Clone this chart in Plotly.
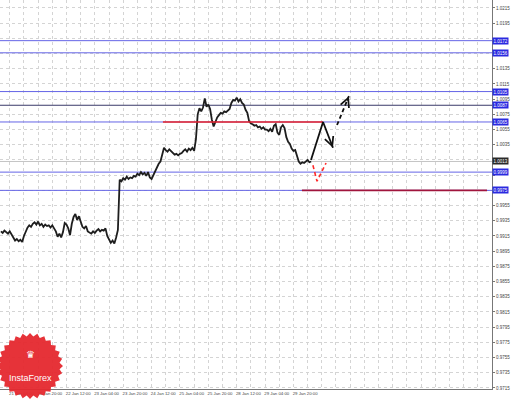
import numpy as np
import plotly.graph_objects as go

# ---------------- data ----------------
close = [
    0.9921, 0.9919, 0.9922, 0.9920, 0.9918, 0.9921, 0.9917, 0.9912, 0.9909, 0.9911,
    0.9908, 0.9910, 0.9907, 0.9915, 0.9922, 0.9926, 0.9929, 0.9927, 0.9931, 0.9933,
    0.9930, 0.9934, 0.9929, 0.9931, 0.9927, 0.9930, 0.9928, 0.9929, 0.9926, 0.9929,
    0.9925, 0.9921, 0.9914, 0.9918, 0.9913, 0.9920, 0.9932, 0.9930, 0.9925, 0.9916,
    0.9931, 0.9940, 0.9944, 0.9936, 0.9941, 0.9933, 0.9927, 0.9925, 0.9928, 0.9921,
    0.9920, 0.9918, 0.9921, 0.9919, 0.9922, 0.9924, 0.9921, 0.9923, 0.9922, 0.9925,
    0.9915, 0.9910, 0.9906, 0.9909, 0.9905, 0.9913, 0.9923,
    0.9989,
    0.9987, 0.9991, 0.9989, 0.9993, 0.9990, 0.9992, 0.9991, 0.9994, 0.9993,
    0.9997, 0.9995, 0.9999, 0.9996, 0.9998, 0.9994, 0.9999, 0.9992, 0.9990,
    0.9995, 1.0001, 1.0006, 1.0010, 1.0013,
    1.0024, 1.0031, 1.0028, 1.0026, 1.0029, 1.0027,
    1.0024, 1.0022, 1.0023, 1.0021, 1.0023, 1.0024,
    1.0027, 1.0029, 1.0026, 1.0030, 1.0028, 1.0031, 1.0027,
    1.0042, 1.0075, 1.0083, 1.0079, 1.0084,
    1.0096, 1.0085, 1.0088, 1.0082,
    1.0068, 1.0059, 1.0065, 1.0071,
    1.0074, 1.0077, 1.0076, 1.0079, 1.0078, 1.0080, 1.0082,
    1.0090, 1.0094, 1.0093, 1.0097, 1.0092, 1.0095, 1.0090,
    1.0088, 1.0081, 1.0077,
    1.0066, 1.0063,
    1.0062, 1.0060, 1.0061, 1.0058, 1.0059, 1.0056, 1.0058, 1.0055,
    1.0055, 1.0053, 1.0056, 1.0052,
    1.0060, 1.0062,
    1.0051, 1.0048,
    1.0058, 1.0061, 1.0057,
    1.0045, 1.0039, 1.0036,
    1.0030, 1.0027, 1.0028,
    1.0021, 1.0013, 1.0010,
    1.0012, 1.0011, 1.0013, 1.0015, 1.0012, 1.0013,
]

x_tick_bars = [5, 21, 37, 53, 69, 85, 101, 117, 133, 149, 165]
x_tick_text = ["21 Jan 04:00", "21 Jan 20:00", "22 Jan 12:00", "23 Jan 04:00",
               "23 Jan 20:00", "24 Jan 12:00", "25 Jan 04:00", "25 Jan 20:00",
               "28 Jan 12:00", "29 Jan 04:00", "29 Jan 20:00"]

y_tick_vals = [0.9715, 0.9735, 0.9755, 0.9775, 0.9795, 0.9815, 0.9835, 0.9855,
               0.9875, 0.9895, 0.9915, 0.9935, 0.9955, 0.9975, 0.9995, 1.0015,
               1.0035, 1.0055, 1.0075, 1.0095, 1.0115, 1.0135, 1.0155, 1.0175,
               1.0195, 1.0215]
# tick labels hidden behind the price tags in the reference
y_tick_hidden = [0.9975, 0.9995, 1.0015, 1.0155, 1.0175]
y_tick_text = ["" if v in y_tick_hidden else "%.4f" % v for v in y_tick_vals]

blue_levels = [1.0172, 1.0156, 1.0105, 1.0065, 0.9999, 0.9975]
dark_level = 1.0087
bid_level = 1.0013

red_seg_x = [91.4, 181.7]
red_seg_y = [1.0065, 1.0065]
darkred_seg_x = [169.8, 274.2]
darkred_seg_y = [0.9975, 0.9975]

fc_solid_x = [174.9, 181.7, 187.3]
fc_solid_y = [1.0015, 1.0065, 1.0031]
fc_dash_x = [189.6, 196.3]
fc_dash_y = [1.0061, 1.0099]
fc_red_x = [176.0, 178.3, 183.4]
fc_red_y = [1.0008, 0.9987, 1.0011]

X_RANGE = [-0.5, 277]

# ---------------- figure ----------------
FONT = "Liberation Sans, Arial, sans-serif"
fig = go.Figure()

def level(lv, color):
    fig.add_trace(go.Scatter(x=X_RANGE, y=[lv, lv], mode="lines",
                             line=dict(color=color, width=1), hoverinfo="skip"))

for lv in blue_levels:
    level(lv, "#6464e6")
level(dark_level, "#3a3a6a")
level(bid_level, "#c4c4c4")

# price
fig.add_trace(go.Scatter(x=list(range(len(close))), y=close, mode="lines",
                         line=dict(color="#1e1e1e", width=1.8), hoverinfo="skip"))

# red / dark-red segments
fig.add_trace(go.Scatter(x=red_seg_x, y=red_seg_y, mode="lines",
                         line=dict(color="#e8242a", width=1.6)))
fig.add_trace(go.Scatter(x=darkred_seg_x, y=darkred_seg_y, mode="lines",
                         line=dict(color="#a0143c", width=1.6)))

# forecast paths
fig.add_trace(go.Scatter(x=fc_solid_x, y=fc_solid_y, mode="lines",
                         line=dict(color="#111111", width=1.8)))
fig.add_trace(go.Scatter(x=fc_dash_x, y=fc_dash_y, mode="lines",
                         line=dict(color="#111111", width=1.8, dash="4px,3px")))
fig.add_trace(go.Scatter(x=fc_red_x, y=fc_red_y, mode="lines",
                         line=dict(color="#ff2a2a", width=1.6, dash="4px,3px")))

annotations = []
shapes = []

def head(xs, ys, color):
    x1, y1 = xs[-1], ys[-1]
    x0, y0 = xs[-2], ys[-2]
    tx = x1 - 0.2 * (x1 - x0)
    ty = y1 - 0.2 * (y1 - y0)
    annotations.append(dict(x=x1, y=y1, ax=tx, ay=ty, xref="x", yref="y",
                            axref="x", ayref="y", text="", showarrow=True,
                            arrowhead=5, arrowsize=1.1, arrowwidth=1.6,
                            arrowcolor=color))

head(fc_solid_x, fc_solid_y, "#111111")
head(fc_dash_x, fc_dash_y, "#111111")
head(fc_red_x, fc_red_y, "#ff2a2a")

# price labels on the right axis
def tag(lv, bg):
    annotations.append(dict(x=1, xref="paper", xanchor="left", yanchor="middle", y=lv, yref="y",
                            text="%.4f" % lv, showarrow=False, bgcolor=bg,
                            font=dict(color="white", size=4.5, family=FONT),
                            borderpad=0.6))

for lv in blue_levels:
    tag(lv, "#2a2ae0")
tag(dark_level, "#2a2ae0")
tag(bid_level, "#2a2a2a")

# InstaForex seal (decorative)
cx, cy = 30 / 492, (389 - 366) / 389
rx, ry = 33 / 492, 33 / 389
n = 28
pts = []
for k in range(2 * n):
    a = np.pi * k / n
    r = 1.0 if k % 2 == 0 else 0.9
    pts.append((cx + rx * r * np.cos(a), cy + ry * r * np.sin(a)))
path = "M " + " L ".join("%.5f,%.5f" % p for p in pts) + " Z"
shapes.append(dict(type="path", xref="paper", yref="paper", path=path,
                   fillcolor="#e5282e", line=dict(color="#e5282e", width=0), layer="above",
                   opacity=0.95))
annotations.append(dict(x=cx, y=cy - 0.03, xref="paper", yref="paper", text="InstaForex",
                        xanchor="center", yanchor="middle",
                        showarrow=False, font=dict(color="white", size=9, family=FONT)))
annotations.append(dict(x=cx, y=cy + 0.03, xref="paper", yref="paper", text="♛",
                        xanchor="center", yanchor="middle",
                        showarrow=False, font=dict(color="white", size=10, family="DejaVu Sans")))

label_off = 6.6  # labels start at their tick, as in MetaTrader
fig.update_layout(
    width=518, height=402,
    margin=dict(l=0, r=26, t=0, b=13),
    paper_bgcolor="white", plot_bgcolor="white",
    showlegend=False,
    shapes=shapes, annotations=annotations,
    xaxis=dict(range=X_RANGE, tickvals=[b + label_off for b in x_tick_bars],
               ticktext=x_tick_text, showgrid=False, zeroline=False,
               ticks="", tickfont=dict(size=4.3, color="#444", family=FONT),
               showline=True, linecolor="#777", linewidth=1, mirror=False,
               minor=dict(tick0=5, dtick=8, showgrid=True, gridcolor="#d4d4d4",
                          griddash="dot", gridwidth=1, ticks="")),
    yaxis=dict(range=[0.97136, 1.02255], side="right", tickvals=y_tick_vals,
               ticktext=y_tick_text, showgrid=True, gridcolor="#d4d4d4", griddash="dot",
               zeroline=False, ticks="outside", ticklen=2, tickcolor="#777",
               tickfont=dict(size=4.5, color="#444", family=FONT),
               showline=True, linecolor="#777", linewidth=1),
)

fig.write_html("out.html", config={"displayModeBar": False},
               post_script="document.body.style.margin='0';")
